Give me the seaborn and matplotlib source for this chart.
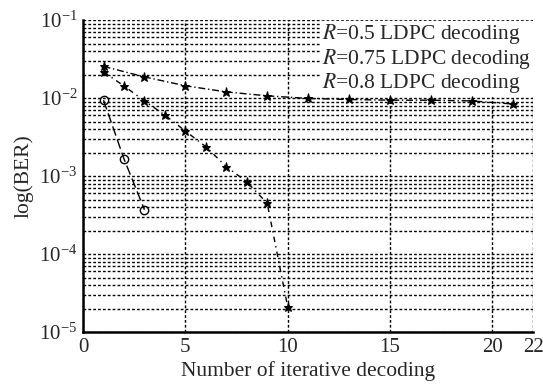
import matplotlib
matplotlib.use("Agg")
import matplotlib.pyplot as plt
import seaborn as sns
import pandas as pd
import numpy as np

# Data
iters_r05 = [1, 2, 3]
ber_r05 = [9.4e-3, 1.66e-3, 3.7e-4]

iters_r075 = [1, 2, 3, 4, 5, 6, 7, 8, 9, 10]
ber_r075 = [2.17e-2, 1.43e-2, 9.2e-3, 6.05e-3, 3.78e-3, 2.38e-3, 1.32e-3, 8.45e-4, 4.47e-4, 2.1e-5]

iters_r08 = [1, 3, 5, 7, 9, 11, 13, 15, 17, 19, 21]
ber_r08 = [2.55e-2, 1.87e-2, 1.44e-2, 1.2e-2, 1.07e-2, 9.9e-3, 9.6e-3, 9.4e-3, 9.4e-3, 9.2e-3, 8.4e-3]

labels = ["$R$=0.5 LDPC decoding", "$R$=0.75 LDPC decoding", "$R$=0.8 LDPC decoding"]
x_ticks = [0, 5, 10, 15, 20, 22]

sns.set_style("white")
plt.rcParams["font.family"] = ["Liberation Serif", "DejaVu Serif"]
plt.rcParams["mathtext.fontset"] = "stix"

fig = plt.figure(figsize=(5.43, 3.87), dpi=100)
ax = fig.add_axes([0.153, 0.142, 0.829, 0.806])

df05 = pd.DataFrame({"x": iters_r05, "y": ber_r05})
df075 = pd.DataFrame({"x": iters_r075, "y": ber_r075})
df08 = pd.DataFrame({"x": iters_r08, "y": ber_r08})

sns.lineplot(data=df05, x="x", y="y", ax=ax, color="black", linewidth=1.0,
             linestyle=(0, (7, 3)), marker="o", markersize=6,
             markerfacecolor="none", markeredgecolor="black", markeredgewidth=1.0,
             label=labels[0], zorder=3)
sns.lineplot(data=df075, x="x", y="y", ax=ax, color="black", linewidth=1.0,
             linestyle=(0, (4, 3, 1, 3)), marker="*", markersize=6.5,
             markerfacecolor="black", markeredgecolor="black",
             label=labels[1], zorder=3)
sns.lineplot(data=df08, x="x", y="y", ax=ax, color="black", linewidth=1.0,
             linestyle=(0, (5, 2, 1, 2)), marker="*", markersize=6.5,
             markerfacecolor="black", markeredgecolor="black",
             label=labels[2], zorder=3)

ax.set_yscale("log")
ax.set_xlim(0, 22)
ax.set_ylim(1e-5, 1e-1)
ax.set_xticks(x_ticks)
ax.set_xticklabels([str(t) for t in x_ticks])
ax.yaxis.set_major_locator(matplotlib.ticker.LogLocator(base=10, numticks=10))
ax.yaxis.set_minor_locator(matplotlib.ticker.LogLocator(base=10, subs=np.arange(2, 10), numticks=20))
ax.yaxis.set_minor_formatter(matplotlib.ticker.NullFormatter())

grid_style = dict(color="black", linestyle=(0, (2, 1.5)), linewidth=1.0)
ax.grid(True, which="major", axis="both", **grid_style)
ax.grid(True, which="minor", axis="y", **grid_style)
ax.set_axisbelow(True)

ax.tick_params(axis="both", which="both", length=0, labelsize=15, pad=4)
ax.set_xlabel("Number of iterative decoding", fontsize=15.5, labelpad=3)
ax.set_ylabel("log(BER)", fontsize=15.5, labelpad=4)

for s in ["top", "right"]:
    ax.spines[s].set_visible(False)
for s in ["left", "bottom"]:
    ax.spines[s].set_color("black")
    ax.spines[s].set_linewidth(1.8)

leg = ax.legend(loc="upper right", fontsize=15.5, frameon=True, handlelength=0,
                handletextpad=0, borderaxespad=0.05, borderpad=0.05, labelspacing=0.02,
                fancybox=False, framealpha=1.0, edgecolor="white", facecolor="white")
for h in leg.legend_handles:
    h.set_visible(False)
leg.set_zorder(2)

fig.savefig("out.png", dpi=100)
